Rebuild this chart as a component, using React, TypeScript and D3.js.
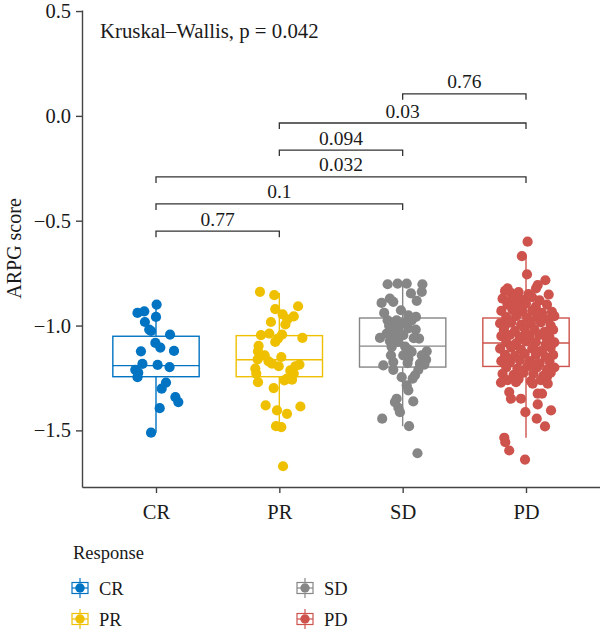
import React, { useEffect, useRef } from "react";
import * as d3 from "d3";

const categories = ["CR", "PR", "SD", "PD"];
const colors = ["#0073C2", "#EFC000", "#868686", "#CD534C"];
const yTickValues = [0.5, 0.0, -0.5, -1.0, -1.5];

// box statistics per response group
const lowerWhisker = [-1.511, -1.484, -1.48, -1.535];
const q1 = [-1.244, -1.244, -1.198, -1.195];
const median = [-1.191, -1.163, -1.098, -1.083];
const q3 = [-1.051, -1.048, -0.964, -0.964];
const upperWhisker = [-0.9, -0.844, -0.8, -0.669];

// each point: [horizontal jitter in category steps, ARPG score]
const crPoints = [
    [0.005, -0.9], [-0.15, -0.94], [-0.095, -0.932], [0, -0.959], [-0.09, -0.983],
    [-0.055, -1.019], [-0.04, -1.026], [0.114, -1.043], [-0.005, -1.083], [0.035, -1.105],
    [-0.122, -1.123], [0.146, -1.121], [-0.11, -1.183], [0.013, -1.188], [0.11, -1.198],
    [-0.168, -1.211], [-0.144, -1.225], [-0.15, -1.246], [0.081, -1.272], [0.046, -1.301],
    [0.157, -1.341], [0.181, -1.365], [0.03, -1.394], [-0.04, -1.511]
];

const prPoints = [
    [-0.157, -0.839], [-0.041, -0.855], [0.152, -0.908], [-0.033, -0.922], [0.027, -0.947],
    [0.117, -0.956], [0.065, -0.971], [-0.068, -0.983], [0.049, -0.995], [-0.149, -1.046],
    [-0.081, -1.038], [0.022, -1.043], [0.187, -1.059], [-0.033, -1.078], [-0.011, -1.062],
    [-0.168, -1.097], [-0.173, -1.123], [-0.119, -1.142], [0.016, -1.15], [-0.176, -1.161],
    [-0.087, -1.171], [-0.059, -1.182], [-0.005, -1.194], [0.13, -1.194], [0.163, -1.186],
    [-0.195, -1.205], [0.089, -1.214], [-0.187, -1.229], [0.117, -1.229], [0.062, -1.253],
    [0.103, -1.258], [-0.173, -1.27], [0.041, -1.261], [-0.046, -1.298], [-0.111, -1.381],
    [0.171, -1.386], [-0.019, -1.405], [0.062, -1.421], [-0.027, -1.48], [0.016, -1.484],
    [0.03, -1.671]
];

const sdPoints = [
    [-0.122, -0.803], [-0.041, -0.8], [0.033, -0.8], [0.16, -0.803], [0.155, -0.839],
    [0.067, -0.847], [-0.104, -0.871], [0.114, -0.882], [-0.171, -0.892], [-0.076, -0.887],
    [-0.014, -0.927], [-0.15, -0.94], [0.046, -0.951], [0.108, -0.959], [-0.122, -0.975],
    [-0.063, -0.991], [0.005, -0.988], [-0.095, -1.014], [-0.035, -1.022], [0.046, -1.014],
    [0.106, -1.019], [-0.13, -1.038], [-0.068, -1.046], [0.005, -1.046], [-0.184, -1.059],
    [0.133, -1.062], [-0.104, -1.074], [-0.035, -1.078], [-0.089, -1.102], [0.046, -1.115],
    [0.073, -1.126], [0.195, -1.123], [-0.095, -1.142], [0.005, -1.142], [0.155, -1.142],
    [0.046, -1.158], [0.19, -1.163], [-0.076, -1.174], [0.04, -1.179], [0.14, -1.182],
    [-0.157, -1.19], [0.176, -1.186], [-0.076, -1.211], [0.127, -1.211], [-0.008, -1.246],
    [0.081, -1.253], [0.1, -1.237], [0.033, -1.285], [0.046, -1.309], [-0.049, -1.349],
    [-0.063, -1.365], [0.086, -1.362], [-0.035, -1.392], [-0.022, -1.413], [-0.166, -1.444],
    [0.052, -1.48], [0.12, -1.609], [-0.049, -0.975], [0.073, -0.975], [-0.022, -1.038],
    [0.02, -1.1], [-0.11, -1.0], [0.09, -1.06]
];

const pdPoints = [
    [0.013, -0.6], [-0.033, -0.669], [0.008, -0.756], [0.157, -0.784], [0.095, -0.807],
    [0.081, -0.823], [0.184, -0.852], [-0.149, -0.823],
    [-0.17, -0.835], [-0.12, -0.845], [-0.06, -0.84], [0.02, -0.85],
    [-0.19, -0.872], [-0.1, -0.868], [-0.03, -0.878], [0.05, -0.865], [0.11, -0.88],
    [-0.15, -0.9], [-0.07, -0.905], [0.0, -0.895], [0.08, -0.91], [0.17, -0.9],
    [-0.2, -0.93], [-0.11, -0.925], [-0.03, -0.935], [0.05, -0.93], [0.13, -0.94], [0.21, -0.935],
    [-0.16, -0.96], [-0.08, -0.955], [0.01, -0.965], [0.09, -0.96], [0.18, -0.97], [0.23, -0.955],
    [-0.21, -0.99], [-0.12, -0.985], [-0.04, -0.995], [0.04, -0.99], [0.12, -0.985], [0.2, -1.0],
    [-0.18, -1.02], [-0.09, -1.025], [-0.01, -1.015], [0.07, -1.02], [0.15, -1.03], [0.22, -1.02],
    [-0.2, -1.05], [-0.13, -1.045], [-0.05, -1.055], [0.03, -1.05], [0.11, -1.045], [0.19, -1.055],
    [-0.16, -1.08], [-0.08, -1.085], [0.0, -1.075], [0.08, -1.08], [0.16, -1.09], [0.23, -1.08],
    [-0.21, -1.11], [-0.12, -1.105], [-0.04, -1.115], [0.05, -1.11], [0.13, -1.12], [0.2, -1.105],
    [-0.17, -1.14], [-0.09, -1.145], [-0.01, -1.135], [0.08, -1.14], [0.16, -1.15], [0.22, -1.14],
    [-0.2, -1.17], [-0.13, -1.175], [-0.05, -1.165], [0.03, -1.17], [0.11, -1.18], [0.19, -1.17],
    [-0.16, -1.2], [-0.07, -1.205], [0.01, -1.195], [0.09, -1.2], [0.17, -1.21], [0.23, -1.2],
    [-0.19, -1.23], [-0.1, -1.235], [-0.02, -1.225], [0.06, -1.23], [0.14, -1.24], [0.2, -1.225],
    [-0.15, -1.26], [-0.06, -1.255], [0.04, -1.265], [0.12, -1.26],
    [-0.14, -0.885], [-0.05, -0.915], [0.1, -0.945], [-0.17, -1.0], [0.0, -1.04], [0.17, -1.065],
    [-0.1, -1.095], [0.09, -1.125], [-0.15, -1.155], [0.06, -1.185], [-0.04, -1.215], [0.17, -1.245],
    [-0.203, -1.272], [-0.081, -1.27], [0.054, -1.277], [0.176, -1.277], [-0.136, -1.317],
    [-0.122, -1.349], [-0.041, -1.349], [0.095, -1.325], [0.13, -1.325], [0.095, -1.376],
    [-0.005, -1.413], [0.203, -1.405], [0.087, -1.444], [0.154, -1.481], [-0.176, -1.535],
    [-0.168, -1.556], [-0.136, -1.596], [-0.008, -1.639]
];

const groupPoints = [crPoints, prPoints, sdPoints, pdPoints];

// pairwise comparisons drawn as brackets above the boxes
const compFrom = ["CR", "CR", "CR", "PR", "PR", "SD"];
const compTo = ["PR", "SD", "PD", "SD", "PD", "PD"];
const compP = ["0.77", "0.1", "0.032", "0.094", "0.03", "0.76"];
const compLevel = [-0.55, -0.42, -0.291, -0.163, -0.034, 0.105];

const kruskalLabel = "Kruskal\u2013Wallis, p = 0.042";
const fontFamily = "'Liberation Serif', 'Times New Roman', serif";

function App()
{
    const ref = useRef<SVGSVGElement>(null);

    useEffect(() =>
    {
        const svg = d3.select(ref.current);
        svg.selectAll("*").remove();

        const x = d3.scalePoint().domain(categories).range([82, 600]).padding(0.6);
        const y = d3.scaleLinear().domain([-1.77, 0.505]).range([487, 10]);
        const step = x.step();
        const boxHalf = step * 0.35;

        // axes
        const yAxis = svg.append("g")
            .attr("transform", "translate(82,0)")
            .call(d3.axisLeft(y).tickValues(yTickValues).tickFormat(d3.format(".1f")).tickSize(6).tickSizeOuter(0).tickPadding(5));
        const xAxis = svg.append("g")
            .attr("transform", "translate(0,487)")
            .call(d3.axisBottom(x).tickSize(6).tickSizeOuter(0).tickPadding(11));

        [yAxis, xAxis].forEach((g) =>
        {
            g.select(".domain").attr("stroke", "#444").attr("stroke-width", 1.4);
            g.selectAll(".tick line").attr("stroke", "#444").attr("stroke-width", 1.4);
            g.selectAll(".tick text")
                .attr("fill", "#1a1a1a")
                .style("font-family", fontFamily)
                .style("font-size", "20.5px");
        });

        svg.append("text")
            .attr("transform", `translate(21,${(487 + 10) / 2}) rotate(-90)`)
            .attr("text-anchor", "middle")
            .style("font-family", fontFamily)
            .style("font-size", "20px")
            .attr("fill", "#1a1a1a")
            .text("ARPG score");

        // boxes and whiskers
        categories.forEach((cat, i) =>
        {
            const cx = x(cat)!;
            const g = svg.append("g").attr("stroke", colors[i]).attr("stroke-width", 1.4).attr("fill", "none");
            g.append("line").attr("x1", cx).attr("x2", cx).attr("y1", y(q3[i])).attr("y2", y(upperWhisker[i]));
            g.append("line").attr("x1", cx).attr("x2", cx).attr("y1", y(q1[i])).attr("y2", y(lowerWhisker[i]));
            g.append("rect")
                .attr("x", cx - boxHalf)
                .attr("y", y(q3[i]))
                .attr("width", boxHalf * 2)
                .attr("height", y(q1[i]) - y(q3[i]))
                .attr("fill", "white");
            g.append("line").attr("x1", cx - boxHalf).attr("x2", cx + boxHalf).attr("y1", y(median[i])).attr("y2", y(median[i]));
        });

        // jittered points
        categories.forEach((cat, i) =>
        {
            svg.append("g")
                .selectAll("circle")
                .data(groupPoints[i])
                .enter()
                .append("circle")
                .attr("cx", (d) => x(cat)! + d[0] * step)
                .attr("cy", (d) => y(d[1]))
                .attr("r", 5.1)
                .attr("fill", colors[i]);
        });

        // comparison brackets
        const tip = 6;
        compFrom.forEach((from, i) =>
        {
            const x1 = x(from)!;
            const x2 = x(compTo[i])!;
            const yy = y(compLevel[i]);
            svg.append("path")
                .attr("d", `M${x1},${yy + tip}V${yy}H${x2}V${yy + tip}`)
                .attr("fill", "none")
                .attr("stroke", "#333")
                .attr("stroke-width", 1.3);
            svg.append("text")
                .attr("x", (x1 + x2) / 2)
                .attr("y", yy - 5.5)
                .attr("text-anchor", "middle")
                .style("font-family", fontFamily)
                .style("font-size", "19.5px")
                .attr("fill", "#1a1a1a")
                .text(compP[i]);
        });

        svg.append("text")
            .attr("x", 100)
            .attr("y", 38)
            .style("font-family", fontFamily)
            .style("font-size", "20.8px")
            .attr("fill", "#1a1a1a")
            .text(kruskalLabel);

        // legend
        const legend = svg.append("g").attr("transform", "translate(72,559)");
        legend.append("text")
            .attr("x", 1)
            .attr("y", 0)
            .style("font-family", fontFamily)
            .style("font-size", "18.5px")
            .attr("fill", "#1a1a1a")
            .text("Response");

        categories.forEach((cat, i) =>
        {
            const col = Math.floor(i / 2);
            const row = i % 2;
            const key = legend.append("g").attr("transform", `translate(${col * 225},${29 + row * 31})`);
            key.append("line").attr("x1", 8).attr("x2", 8).attr("y1", -10).attr("y2", 10)
                .attr("stroke", colors[i]).attr("stroke-width", 1.2);
            key.append("rect").attr("x", 0).attr("y", -5.5).attr("width", 16).attr("height", 11)
                .attr("fill", "white").attr("stroke", colors[i]).attr("stroke-width", 1.2);
            key.append("line").attr("x1", 0).attr("x2", 16).attr("y1", 0).attr("y2", 0)
                .attr("stroke", colors[i]).attr("stroke-width", 1.2);
            key.append("circle").attr("cx", 8).attr("cy", 0).attr("r", 4.7).attr("fill", colors[i]);
            key.append("text")
                .attr("x", 27)
                .attr("y", 7)
                .style("font-family", fontFamily)
                .style("font-size", "18.5px")
                .attr("fill", "#1a1a1a")
                .text(cat);
        });
    }, []);

    return (
        <svg
            ref={ref}
            width={600}
            height={634}
            style={{ position: "absolute", left: 0, top: 0, background: "white" }}
        />
    );
}

export default App;
